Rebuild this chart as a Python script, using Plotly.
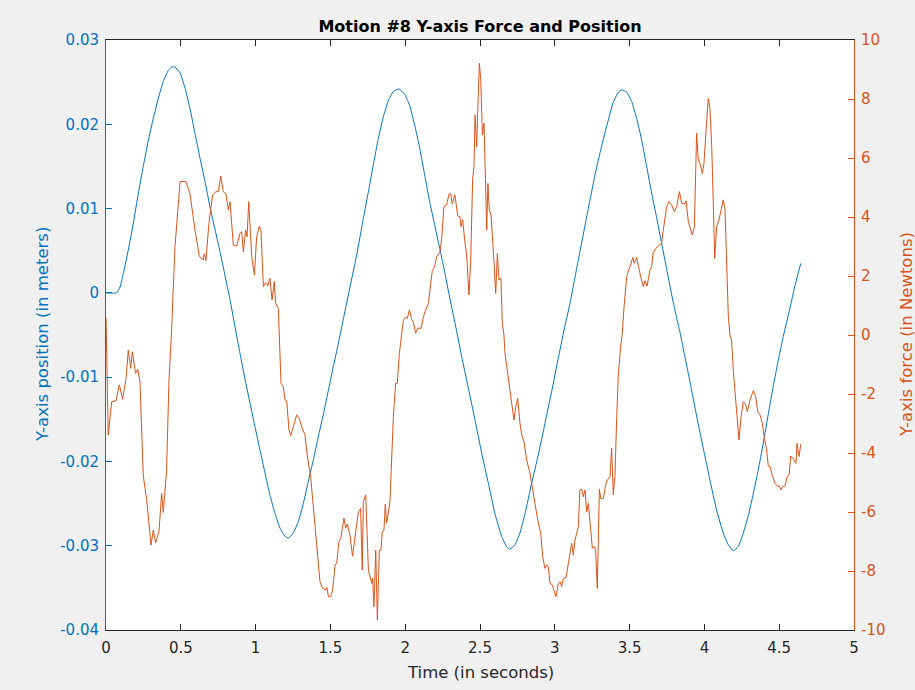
import plotly.graph_objects as go

# ---- data ----
pos_t = [0.000, 0.071, 0.094, 0.116, 0.149, 0.183, 0.216, 0.249, 0.283, 0.316, 0.350, 0.383, 0.417, 0.439, 0.461,
         0.495, 0.528, 0.561, 0.595, 0.628, 0.662, 0.695, 0.729, 0.762, 0.795, 0.829, 0.862, 0.896, 0.929, 0.963,
         0.996, 1.029, 1.063, 1.096, 1.130, 1.163, 1.197, 1.219, 1.252, 1.286, 1.319, 1.352, 1.386, 1.419, 1.453,
         1.486, 1.519, 1.553, 1.590, 1.631, 1.676, 1.720, 1.754, 1.787, 1.820, 1.854, 1.887, 1.921, 1.959, 1.999,
         2.032, 2.066, 2.099, 2.132, 2.166, 2.199, 2.233, 2.266, 2.299, 2.340, 2.378, 2.422, 2.467, 2.511, 2.556,
         2.600, 2.645, 2.678, 2.700, 2.734, 2.767, 2.801, 2.845, 2.890, 2.934, 2.979, 3.023, 3.057, 3.102, 3.157,
         3.213, 3.269, 3.302, 3.347, 3.391, 3.424, 3.447, 3.481, 3.514, 3.547, 3.581, 3.614, 3.648, 3.681, 3.714,
         3.748, 3.781, 3.815, 3.837, 3.870, 3.904, 3.948, 3.993, 4.037, 4.082, 4.126, 4.160, 4.193, 4.227, 4.260,
         4.294, 4.327, 4.360, 4.394, 4.427, 4.460, 4.494, 4.527, 4.572, 4.606, 4.644]
pos_m = [0.0000, 0.0000, 0.0007, 0.0023, 0.0051, 0.0083, 0.0118, 0.0150, 0.0181, 0.0207, 0.0231, 0.0251, 0.0264, 0.0268, 0.0268,
         0.0261, 0.0243, 0.0219, 0.0189, 0.0160, 0.0132, 0.0102, 0.0075, 0.0049, 0.0021, -0.0008, -0.0040, -0.0072, -0.0102, -0.0131,
         -0.0159, -0.0186, -0.0214, -0.0240, -0.0262, -0.0279, -0.0289, -0.0291, -0.0285, -0.0271, -0.0250, -0.0224, -0.0198, -0.0171, -0.0144,
         -0.0116, -0.0088, -0.0060, -0.0028, 0.0007, 0.0045, 0.0088, 0.0120, 0.0152, 0.0183, 0.0209, 0.0228, 0.0239, 0.0242, 0.0235,
         0.0221, 0.0197, 0.0170, 0.0138, 0.0106, 0.0079, 0.0051, 0.0023, -0.0007, -0.0042, -0.0076, -0.0113, -0.0151, -0.0190, -0.0226,
         -0.0262, -0.0289, -0.0301, -0.0304, -0.0299, -0.0285, -0.0262, -0.0226, -0.0192, -0.0155, -0.0117, -0.0078, -0.0048, -0.0012, 0.0039,
         0.0090, 0.0140, 0.0166, 0.0198, 0.0226, 0.0238, 0.0241, 0.0238, 0.0227, 0.0207, 0.0181, 0.0150, 0.0118, 0.0089, 0.0059,
         0.0028, -0.0002, -0.0030, -0.0047, -0.0076, -0.0106, -0.0146, -0.0185, -0.0222, -0.0258, -0.0285, -0.0299, -0.0306, -0.0301, -0.0285,
         -0.0264, -0.0238, -0.0210, -0.0178, -0.0144, -0.0111, -0.0080, -0.0052, -0.0018, 0.0009, 0.0035]

force_t = [0.000, 0.015, 0.038, 0.067, 0.089, 0.111, 0.134, 0.149, 0.165, 0.176, 0.198, 0.212, 0.227, 0.249, 0.272,
           0.301, 0.316, 0.332, 0.354, 0.372, 0.383, 0.405, 0.421, 0.437, 0.461, 0.495, 0.535, 0.561, 0.595, 0.624,
           0.650, 0.657, 0.668, 0.688, 0.713, 0.735, 0.751, 0.767, 0.784, 0.802, 0.818, 0.829, 0.851, 0.874, 0.896,
           0.907, 0.918, 0.934, 0.943, 0.954, 0.974, 0.992, 1.007, 1.025, 1.036, 1.052, 1.067, 1.081, 1.096, 1.110,
           1.125, 1.134, 1.152, 1.160, 1.170, 1.185, 1.197, 1.208, 1.223, 1.235, 1.252, 1.275, 1.292, 1.308, 1.330,
           1.346, 1.368, 1.397, 1.430, 1.448, 1.471, 1.475, 1.488, 1.502, 1.515, 1.531, 1.542, 1.557, 1.569, 1.591,
           1.602, 1.613, 1.631, 1.648, 1.662, 1.687, 1.702, 1.713, 1.720, 1.736, 1.754, 1.776, 1.782, 1.791, 1.803,
           1.814, 1.827, 1.838, 1.847, 1.858, 1.867, 1.876, 1.898, 1.910, 1.921, 1.936, 1.947, 1.961, 1.977, 1.988,
           2.003, 2.014, 2.028, 2.043, 2.054, 2.070, 2.083, 2.106, 2.117, 2.132, 2.155, 2.166, 2.181, 2.195, 2.211,
           2.233, 2.244, 2.259, 2.277, 2.293, 2.304, 2.315, 2.332, 2.351, 2.366, 2.373, 2.384, 2.400, 2.411, 2.426,
           2.438, 2.451, 2.460, 2.467, 2.478, 2.485, 2.496, 2.505, 2.516, 2.527, 2.538, 2.545, 2.553, 2.562, 2.574,
           2.585, 2.594, 2.605, 2.616, 2.627, 2.640, 2.649, 2.660, 2.667, 2.683, 2.700, 2.716, 2.727, 2.739, 2.752,
           2.767, 2.779, 2.794, 2.812, 2.834, 2.852, 2.868, 2.886, 2.906, 2.919, 2.934, 2.946, 2.957, 2.968, 2.983,
           2.995, 3.008, 3.023, 3.035, 3.046, 3.057, 3.075, 3.090, 3.102, 3.113, 3.124, 3.135, 3.157, 3.168, 3.180,
           3.191, 3.202, 3.213, 3.224, 3.235, 3.251, 3.262, 3.273, 3.284, 3.298, 3.307, 3.325, 3.336, 3.347, 3.369,
           3.380, 3.391, 3.402, 3.414, 3.424, 3.440, 3.450, 3.463, 3.481, 3.496, 3.507, 3.521, 3.531, 3.547, 3.558,
           3.574, 3.592, 3.603, 3.617, 3.636, 3.647, 3.658, 3.676, 3.703, 3.714, 3.725, 3.748, 3.763, 3.781, 3.799,
           3.815, 3.833, 3.849, 3.866, 3.877, 3.893, 3.904, 3.919, 3.933, 3.948, 3.959, 3.971, 3.986, 3.997, 4.011,
           4.026, 4.037, 4.049, 4.060, 4.069, 4.082, 4.098, 4.109, 4.126, 4.138, 4.149, 4.160, 4.171, 4.182, 4.193,
           4.211, 4.231, 4.245, 4.260, 4.276, 4.287, 4.305, 4.327, 4.343, 4.357, 4.372, 4.387, 4.401, 4.416, 4.427,
           4.439, 4.456, 4.472, 4.487, 4.500, 4.512, 4.523, 4.539, 4.554, 4.566, 4.577, 4.592, 4.612, 4.619, 4.633,
           4.644]
force_n = [0.60, -3.39, -2.26, -2.23, -1.69, -2.18, -1.47, -0.51, -1.13, -0.57, -1.30, -1.16, -1.58, -4.75, -5.59,
           -7.12, -6.61, -7.04, -6.67, -5.37, -6.02, -4.58, -1.53, 0.00, 2.99, 5.20, 5.20, 4.80, 3.56, 2.66,
           2.54, 2.75, 2.52, 3.79, 4.75, 4.86, 4.86, 5.39, 4.86, 4.78, 4.24, 4.52, 3.05, 3.02, 3.45,
           3.50, 2.82, 3.56, 3.33, 4.52, 2.66, 2.03, 3.33, 3.69, 3.56, 1.64, 1.77, 1.66, 1.92, 1.19,
           1.81, 1.07, 0.90, -0.20, -1.64, -1.75, -2.20, -2.23, -3.22, -3.41, -3.11, -2.71, -2.82, -3.11, -3.39,
           -4.12, -4.80, -6.61, -8.36, -8.59, -8.64, -8.56, -8.87, -8.87, -8.64, -7.80, -7.74, -7.01, -6.89, -6.21,
           -6.55, -6.41, -6.80, -7.50, -6.98, -5.99, -5.88, -7.97, -5.65, -5.42, -7.97, -8.42, -8.25, -9.21, -7.29,
           -9.66, -7.29, -7.29, -6.67, -6.61, -5.73, -6.38, -5.65, -4.01, -2.77, -1.64, -1.64, -0.62, 0.00, 0.51,
           0.60, 0.56, 0.85, 0.53, 0.45, 0.06, 0.23, 0.23, 0.51, 0.79, 1.07, 1.53, 2.18, 2.29, 2.66,
           2.82, 3.28, 4.35, 4.41, 4.78, 4.78, 4.44, 4.75, 4.03, 4.01, 3.67, 3.90, 3.11, 2.71, 1.36,
           2.54, 5.31, 5.71, 7.46, 6.38, 7.63, 9.21, 8.64, 6.78, 7.18, 5.14, 3.56, 5.14, 4.24, 4.07,
           2.88, 2.43, 1.41, 2.77, 1.86, 1.92, 0.40, 0.00, -0.62, -1.24, -1.86, -2.43, -2.88, -2.43, -2.15,
           -2.99, -3.39, -3.62, -4.24, -4.69, -5.25, -5.82, -6.27, -6.72, -7.51, -7.91, -7.80, -7.85, -8.42, -8.47,
           -8.64, -8.87, -8.44, -8.36, -8.53, -8.25, -8.22, -7.74, -7.46, -7.06, -7.46, -6.95, -6.50, -5.25, -5.23,
           -5.48, -5.25, -5.99, -5.71, -6.33, -7.23, -7.17, -7.29, -8.59, -5.23, -5.54, -5.54, -5.20, -4.95, -4.80,
           -3.84, -5.42, -4.80, -2.77, -1.41, -0.40, 0.00, 0.96, 1.98, 2.23, 2.37, 2.63, 2.43, 2.63, 2.32,
           1.98, 1.64, 1.84, 1.66, 2.20, 2.32, 2.79, 2.94, 3.05, 3.11, 3.56, 4.35, 4.52, 4.41, 4.18,
           4.35, 4.86, 4.46, 4.44, 4.55, 3.84, 3.67, 3.39, 3.67, 6.84, 5.93, 5.82, 5.48, 5.82, 6.95,
           8.02, 7.68, 6.38, 4.35, 2.60, 3.67, 3.90, 4.18, 4.58, 4.24, 2.43, 0.62, 0.00, -0.17, -1.19,
           -2.20, -3.56, -2.77, -2.26, -2.37, -2.60, -2.20, -1.89, -2.09, -2.60, -2.71, -2.99, -3.50, -3.90, -4.44,
           -4.46, -4.80, -5.03, -5.12, -5.12, -5.25, -5.14, -5.11, -4.80, -4.75, -4.10, -4.18, -4.35, -3.67, -4.12,
           -3.70]

x_ticks = [0, 0.5, 1, 1.5, 2, 2.5, 3, 3.5, 4, 4.5, 5]
x_ticktext = ["0", "0.5", "1", "1.5", "2", "2.5", "3", "3.5", "4", "4.5", "5"]
y1_ticks = [0.03, 0.02, 0.01, 0, -0.01, -0.02, -0.03, -0.04]
y1_ticktext = ["0.03", "0.02", "0.01", "0", "-0.01", "-0.02", "-0.03", "-0.04"]
y2_ticks = [10, 8, 6, 4, 2, 0, -2, -4, -6, -8, -10]
y2_ticktext = ["10", "8", "6", "4", "2", "0", "-2", "-4", "-6", "-8", "-10"]

BLUE = "#0072BD"
ORANGE = "#D95319"
DARK = "#262626"
FONT = "DejaVu Sans"

fig = go.Figure()
fig.add_trace(go.Scatter(x=pos_t, y=pos_m, mode="lines", yaxis="y",
                         line=dict(color=BLUE, width=1, shape="spline", smoothing=0.4),
                         hoverinfo="skip", showlegend=False))
fig.add_trace(go.Scatter(x=force_t, y=force_n, mode="lines", yaxis="y2",
                         line=dict(color=ORANGE, width=1),
                         hoverinfo="skip", showlegend=False))

fig.update_layout(
    width=915, height=690,
    margin=dict(l=106, r=61, t=40, b=60, pad=0),
    paper_bgcolor="#f0f0f0", plot_bgcolor="white",
    font=dict(family=FONT, size=15, color=DARK),
    title=dict(text="<b>Motion #8 Y-axis Force and Position</b>",
               x=0.5, xref="paper", xanchor="center",
               y=1 - 26 / 690, yref="container", yanchor="middle",
               font=dict(family=FONT, size=16, color="black")),
    xaxis=dict(range=[0, 5], tickvals=x_ticks, ticktext=x_ticktext,
               ticks="inside", ticklen=6, tickcolor=DARK, tickwidth=1,
               showline=True, linecolor=DARK, linewidth=1, mirror="ticks",
               showgrid=False, zeroline=False, ticklabelstandoff=4,
               tickfont=dict(family=FONT, size=15, color=DARK)),
    yaxis=dict(range=[-0.04, 0.03], tickvals=y1_ticks, ticktext=y1_ticktext,
               ticks="inside", ticklen=6, tickcolor=BLUE, tickwidth=1,
               showline=True, linecolor=BLUE, linewidth=1,
               showgrid=False, zeroline=False, ticklabelstandoff=3,
               tickfont=dict(family=FONT, size=15, color=BLUE)),
    yaxis2=dict(range=[-10, 10], tickvals=y2_ticks, ticktext=y2_ticktext,
                overlaying="y", side="right", anchor="x",
                ticks="inside", ticklen=6, tickcolor=ORANGE, tickwidth=1,
                showline=True, linecolor=ORANGE, linewidth=1,
                showgrid=False, zeroline=False, ticklabelstandoff=3,
                tickfont=dict(family=FONT, size=15, color=ORANGE)),
    annotations=[
        dict(text="Time (in seconds)", xref="paper", yref="paper", x=0.5, y=0,
             yshift=-42, xanchor="center", yanchor="middle", showarrow=False,
             font=dict(family=FONT, size=16.5, color=DARK)),
        dict(text="Y-axis position (in meters)", xref="paper", yref="paper", x=0, y=0.5,
             xshift=-64, xanchor="center", yanchor="middle", textangle=-90, showarrow=False,
             font=dict(family=FONT, size=16.5, color=BLUE)),
        dict(text="Y-axis force (in Newtons)", xref="paper", yref="paper", x=1, y=0.5,
             xshift=52, xanchor="center", yanchor="middle", textangle=-90, showarrow=False,
             font=dict(family=FONT, size=16.5, color=ORANGE)),
    ],
)

fig.write_html("out.html")
